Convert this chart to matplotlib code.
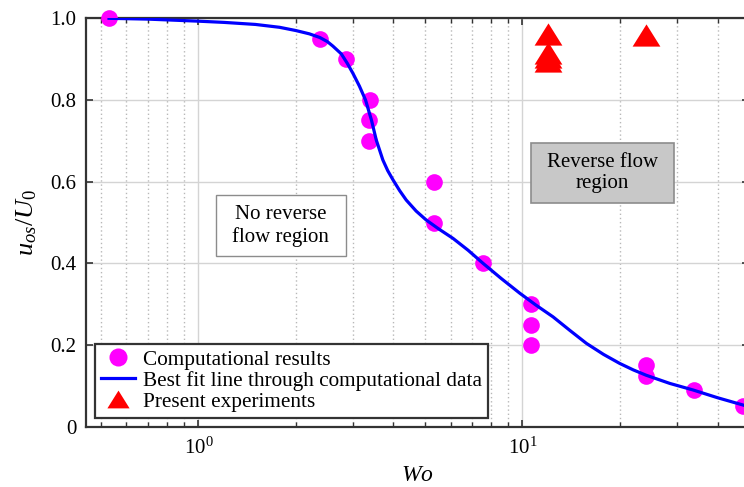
import numpy as np
import matplotlib
matplotlib.use("Agg")
import matplotlib.pyplot as plt
from matplotlib.lines import Line2D
from matplotlib.patches import Rectangle
from matplotlib.ticker import LogLocator, FixedLocator, NullFormatter

plt.rcParams['font.family'] = ['Liberation Serif', 'DejaVu Serif']
plt.rcParams['mathtext.fontset'] = 'custom'
plt.rcParams['mathtext.rm'] = 'Liberation Serif'
plt.rcParams['mathtext.it'] = 'Liberation Serif:italic'

# computational results
wo_comp = [0.53, 2.37, 2.85, 3.38, 3.35, 3.35, 5.34, 5.34, 7.56,
           10.66, 10.66, 10.66, 24.0, 24.0, 33.8, 48.0]
u_comp = [1.0, 0.95, 0.90, 0.80, 0.75, 0.70, 0.60, 0.50, 0.40,
          0.30, 0.25, 0.20, 0.15, 0.125, 0.09, 0.05]

# best fit line through the computational data
wo_fit = [0.53, 0.7, 1.0, 1.2, 1.5, 1.78, 2.0, 2.2, 2.37, 2.5, 2.6, 2.76,
          2.88, 3.0, 3.14, 3.28, 3.42, 3.54, 3.71, 3.84, 3.99, 4.18, 4.38,
          4.7, 5.05, 5.5, 6.11, 6.8, 7.56, 8.6, 9.81, 11.0, 12.43, 14.0,
          15.76, 17.8, 19.96, 22.0, 24.1, 28.5, 33.6, 40.0, 48.0, 50.0]
u_fit = [1.0, 0.998, 0.993, 0.990, 0.985, 0.978, 0.970, 0.962, 0.953, 0.943,
         0.932, 0.913, 0.890, 0.865, 0.834, 0.800, 0.751, 0.702, 0.653, 0.627,
         0.604, 0.578, 0.555, 0.528, 0.506, 0.485, 0.461, 0.432, 0.400, 0.363,
         0.327, 0.298, 0.269, 0.236, 0.204, 0.177, 0.155, 0.139, 0.126, 0.106,
         0.090, 0.071, 0.053, 0.049]

# present experiments
wo_exp = [12.0, 12.0, 12.0, 12.0, 24.0]
u_exp = [0.962, 0.915, 0.905, 0.895, 0.960]

y_ticks = [0, 0.2, 0.4, 0.6, 0.8, 1.0]
y_ticklabels = ['0', '0.2', '0.4', '0.6', '0.8', '1.0']

tri = [(-1, -0.8), (1, -0.8), (0, 0.8)]

fig = plt.figure(figsize=(7.44, 4.87), dpi=100)
ax = fig.add_axes([0.1156, 0.1238, 0.891, 0.8386])

ax.set_xscale('log')
ax.set_xlim(0.45, 50)
ax.set_ylim(0, 1)

ax.xaxis.set_major_locator(LogLocator(base=10))
ax.xaxis.set_minor_locator(LogLocator(base=10, subs=np.arange(2, 10)))
ax.xaxis.set_minor_formatter(NullFormatter())
ax.yaxis.set_major_locator(FixedLocator(y_ticks))
ax.set_yticklabels(y_ticklabels)

ax.grid(True, which='major', color='#d4d4d4', linewidth=1.0, linestyle='-')
ax.grid(True, which='minor', axis='x', color='#b8b8b8', linewidth=1.0,
        linestyle=(0, (1, 2)))
ax.set_axisbelow(True)

ax.tick_params(which='both', direction='in', top=True, right=True,
               colors='#333333', labelcolor='black', labelsize=15)
ax.tick_params(which='major', length=5, width=1.2)
ax.tick_params(which='minor', length=3.5, width=1.0)
ax.tick_params(axis='y', pad=7)
ax.tick_params(axis='x', pad=8)
for s in ax.spines.values():
    s.set_color('#333333')
    s.set_linewidth(1.6)

ax.plot(wo_comp, u_comp, 'o', color='#ff00ff', markersize=12,
        markeredgewidth=0, zorder=3, clip_on=False)
ax.plot(wo_fit, u_fit, '-', color='#0000ff', linewidth=2.3, zorder=4,
        solid_joinstyle='round')
ax.plot(wo_exp, u_exp, linestyle='none', marker=tri, color='#ff0000',
        markersize=20, markeredgewidth=0, zorder=5, clip_on=False)

# region boxes
ax.add_patch(Rectangle((0.196, 0.418), 0.196, 0.149, transform=ax.transAxes,
                       facecolor='white', edgecolor='#8c8c8c', linewidth=1.0,
                       zorder=2))
ax.text(0.294, 0.4925, 'No reverse\nflow region', transform=ax.transAxes,
        ha='center', va='center', fontsize=15, linespacing=1.2, zorder=6)
ax.add_patch(Rectangle((0.6707, 0.547), 0.2162, 0.1484, transform=ax.transAxes,
                       facecolor='#c8c8c8', edgecolor='#8c8c8c', linewidth=1.2,
                       zorder=2))
ax.text(0.7788, 0.621, 'Reverse flow\nregion', transform=ax.transAxes,
        ha='center', va='center', fontsize=15, linespacing=1.15, zorder=6)

ax.set_xlabel('$Wo$', fontsize=17, labelpad=4)
ax.set_ylabel('$u_{os}/U_0$', fontsize=19, labelpad=8)

handles = [
    Line2D([], [], linestyle='none', marker='o', color='#ff00ff',
           markersize=13, markeredgewidth=0),
    Line2D([], [], color='#0000ff', linewidth=2.3),
    Line2D([], [], linestyle='none', marker=tri, color='#ff0000',
           markersize=16, markeredgewidth=0),
]
labels = ['Computational results',
          'Best fit line through computational data',
          'Present experiments']
leg = ax.legend(handles, labels, loc='lower left',
                bbox_to_anchor=(0.0136, 0.021), borderaxespad=0,
                fontsize=15.3, fancybox=False, framealpha=1,
                edgecolor='#333333', labelspacing=0.05, handlelength=1.6,
                handletextpad=0.35, borderpad=0.3)
leg.get_frame().set_linewidth(1.6)
leg.set_zorder(7)

fig.savefig('out.png', dpi=100)
